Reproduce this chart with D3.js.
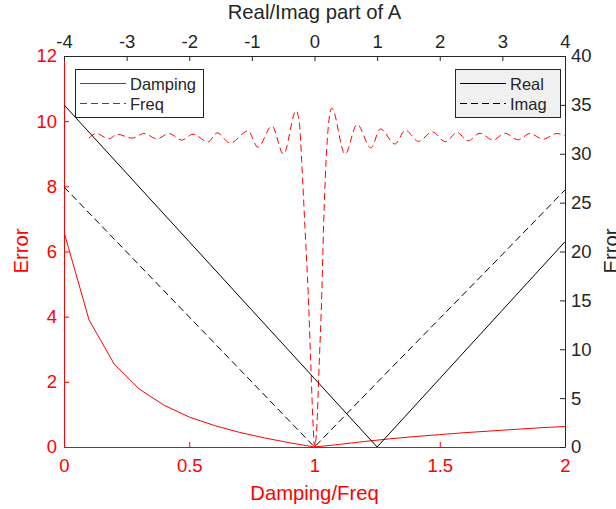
<!DOCTYPE html>
<html>
<head>
<meta charset="utf-8">
<script src="https://cdn.jsdelivr.net/npm/d3@7/dist/d3.min.js"></script>
<style>
html,body{margin:0;padding:0;background:#fff;}
svg{display:block;font-family:"Liberation Sans",Arial,Helvetica,sans-serif;}
</style>
</head>
<body>
<svg id="chart" width="616" height="509"></svg>
<script>
// ---- data ----
const dampX = [0,0.1,0.2,0.3,0.4,0.5,0.6,0.7,0.8,0.9,1.0,1.1,1.2,1.3,1.4,1.5,1.6,1.7,1.8,1.9,2.0];
const dampErr = [6.6,3.9,2.55,1.78,1.28,0.92,0.66,0.45,0.28,0.13,0,0.08,0.17,0.25,0.32,0.38,0.44,0.49,0.54,0.59,0.63];

const freqX = [0.10,0.128,0.18,0.212,0.271,0.319,0.371,0.419,0.47,0.515,0.575,0.611,0.663,0.735,0.774,0.830,0.876,0.927,0.940,0.949,0.962,0.975,0.985,0.995,1.000,1.009,1.019,1.029,1.036,1.046,1.056,1.069,1.122,1.170,1.225,1.263,1.321,1.363,1.415,1.470,1.523,1.569,1.613,1.661,1.713,1.760,1.813,1.860,1.912,1.968,2.0];
const freqErr = [9.48,9.62,9.46,9.6,9.48,9.62,9.46,9.62,9.42,9.6,9.36,9.64,9.33,9.7,9.2,9.85,8.99,10.32,9.9,8.75,6.72,4.67,2.6,0.58,0,0.58,2.6,4.67,6.72,8.75,9.9,10.4,8.99,9.9,9.18,9.76,9.3,9.72,9.38,9.67,9.37,9.65,9.4,9.63,9.42,9.63,9.43,9.62,9.45,9.62,9.56];

const partA = [-4,-3,-2,-1,0,1,2,3,4];
const realErr = [35,28,21,14,7,0,7,14,21];
const imagErr = [26.6,19.95,13.3,6.65,0,6.6,13.15,19.7,26.3];

const bottomTicks = [0,0.5,1,1.5,2];
const leftTicks = [0,2,4,6,8,10,12];
const topTicks = [-4,-3,-2,-1,0,1,2,3,4];
const rightTicks = [0,5,10,15,20,25,30,35,40];

const legend1 = ["Damping","Freq"];
const legend2 = ["Real","Imag"];

// ---- layout ----
const L = 64, R = 565, T = 56, B = 447;
const RED = "#ff0000", DARK = "#262626";
const tickFont = "18.5px", labelFont = "20.3px", legFont = "16.5px";

const svg = d3.select("#chart");
svg.append("rect").attr("width",616).attr("height",509).attr("fill","#fff");

const xB = d3.scaleLinear().domain([0,2]).range([L,R]);
const yL = d3.scaleLinear().domain([0,12]).range([B,T]);
const xT = d3.scaleLinear().domain([-4,4]).range([L,R]);
const yR = d3.scaleLinear().domain([0,40]).range([B,T]);

const fmt = d => String(d);

function styleAxis(g, color){
  g.select(".domain").attr("stroke",color).attr("stroke-width",1);
  g.selectAll(".tick line").attr("stroke",color);
  g.selectAll(".tick text").attr("fill",color).style("font-size",tickFont)
    .style("font-family",'"Liberation Sans",Arial,sans-serif');
}

// bottom axis (red)
const gB = svg.append("g").attr("transform",`translate(0,${B})`)
  .call(d3.axisBottom(xB).tickValues(bottomTicks).tickFormat(fmt).tickSizeInner(-5).tickSizeOuter(0).tickPadding(12));
styleAxis(gB, RED);
// left axis (red)
const gL = svg.append("g").attr("transform",`translate(${L},0)`)
  .call(d3.axisLeft(yL).tickValues(leftTicks).tickFormat(fmt).tickSizeInner(-5).tickSizeOuter(0).tickPadding(7));
styleAxis(gL, RED);
// top axis (dark)
const gT = svg.append("g").attr("transform",`translate(0,${T})`)
  .call(d3.axisTop(xT).tickValues(topTicks).tickFormat(fmt).tickSizeInner(-5).tickSizeOuter(0).tickPadding(8));
styleAxis(gT, DARK);
// right axis (dark)
const gR = svg.append("g").attr("transform",`translate(${R},0)`)
  .call(d3.axisRight(yR).tickValues(rightTicks).tickFormat(fmt).tickSizeInner(-5).tickSizeOuter(0).tickPadding(6));
styleAxis(gR, DARK);

// axis labels
svg.append("text").attr("x",(L+R)/2).attr("y",500).attr("text-anchor","middle")
  .attr("fill",RED).style("font-size",labelFont).text("Damping/Freq");
svg.append("text").attr("transform",`translate(28,251) rotate(-90)`).attr("text-anchor","middle")
  .attr("fill",RED).style("font-size",labelFont).text("Error");
svg.append("text").attr("x",(L+R)/2).attr("y",19).attr("text-anchor","middle")
  .attr("fill",DARK).style("font-size",labelFont).text("Real/Imag part of A");
svg.append("text").attr("transform",`translate(618,251) rotate(-90)`).attr("text-anchor","middle")
  .attr("fill",DARK).style("font-size",labelFont).text("Error");

// clip
svg.append("clipPath").attr("id","plotclip").append("rect")
  .attr("x",L).attr("y",T).attr("width",R-L).attr("height",B-T);
const plot = svg.append("g").attr("clip-path","url(#plotclip)");

// series on first axes
const lineDamp = d3.line().x((d,i)=>xB(dampX[i])).y(d=>yL(d));
plot.append("path").attr("d",lineDamp(dampErr)).attr("fill","none")
  .attr("stroke",RED).attr("stroke-width",1);

const lineFreq = d3.line().x((d,i)=>xB(freqX[i])).y(d=>yL(d)).curve(d3.curveMonotoneX);
plot.append("path").attr("d",lineFreq(freqErr)).attr("fill","none")
  .attr("stroke",RED).attr("stroke-width",1).attr("stroke-dasharray","7,4");

// series on second axes
const lineA = d3.line().x((d,i)=>xT(partA[i])).y(d=>yR(d));
plot.append("path").attr("d",lineA(realErr)).attr("fill","none")
  .attr("stroke","#000").attr("stroke-width",1);
plot.append("path").attr("d",lineA(imagErr)).attr("fill","none")
  .attr("stroke","#000").attr("stroke-width",1).attr("stroke-dasharray","7,4");

// legends
function legend(x0, y0, w, h, fill, labels, color, dashes){
  const g = svg.append("g");
  g.append("rect").attr("x",x0+0.5).attr("y",y0+0.5).attr("width",w).attr("height",h)
    .attr("fill",fill).attr("stroke",DARK).attr("stroke-width",1);
  labels.forEach((lab,i)=>{
    const cy = y0 + 14.5 + i*20;
    g.append("line").attr("x1",x0+5).attr("x2",x0+51).attr("y1",cy).attr("y2",cy)
      .attr("stroke",color).attr("stroke-width",1).attr("stroke-dasharray",dashes[i]);
    g.append("text").attr("x",x0+55).attr("y",cy+6).attr("fill",DARK)
      .style("font-size",legFont).text(lab);
  });
}
legend(75, 69, 128, 48, "#ffffff", legend1, RED, [null,"7,4"]);
legend(455, 69, 105, 48, "#f0f0f0", legend2, "#000", [null,"7,4"]);
</script>
</body>
</html>
